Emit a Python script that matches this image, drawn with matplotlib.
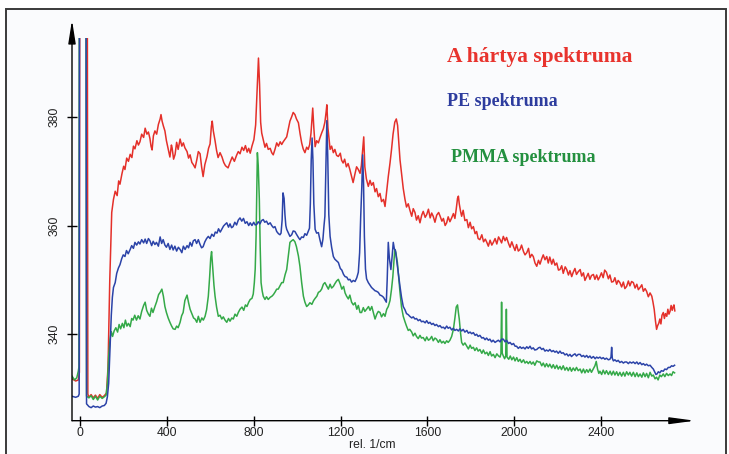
import matplotlib
matplotlib.use("Agg")
import matplotlib.pyplot as plt
from matplotlib.patches import Rectangle

# ---------------- data ----------------
SAT = 420.0      # Rayleigh line: off scale, the trace is cut at the plot ceiling
CEIL = 394.5     # level at which the instrument plot cuts the traces

red_x = [-37, -20, -8, -3, -1, 33, 36, 41, 51, 61, 71, 81, 91, 102, 112, 122, 129, 137, 146, 154, 162, 171, 178, 184, 193, 201, 207, 215, 223, 231, 239, 246, 253, 262, 269, 276, 284, 293, 300, 308, 315, 322, 327, 332, 338, 345, 353, 361, 369, 373, 378, 384, 391, 398, 406, 414, 421, 424, 431, 438, 445, 452, 461, 469, 476, 483, 493, 500, 507, 515, 522, 530, 538, 545, 553, 560, 567, 575, 585, 592, 599, 605, 609, 614, 622, 629, 636, 645, 654, 662, 670, 682, 691, 701, 711, 721, 729, 737, 746, 754, 762, 770, 777, 784, 792, 801, 809, 816, 822, 827, 832, 837, 844, 852, 859, 867, 876, 883, 890, 898, 906, 914, 922, 929, 936, 945, 952, 960, 967, 975, 982, 990, 997, 1006, 1014, 1021, 1028, 1036, 1044, 1051, 1058, 1064, 1072, 1077, 1083, 1090, 1098, 1105, 1113, 1121, 1128, 1134, 1137, 1142, 1148, 1152, 1159, 1167, 1174, 1182, 1190, 1199, 1205, 1212, 1219, 1227, 1235, 1243, 1250, 1258, 1266, 1274, 1282, 1290, 1296, 1302, 1307, 1312, 1319, 1328, 1336, 1343, 1351, 1359, 1366, 1374, 1382, 1389, 1398, 1405, 1412, 1420, 1428, 1435, 1442, 1450, 1457, 1463, 1469, 1474, 1481, 1489, 1497, 1504, 1512, 1519, 1528, 1535, 1543, 1550, 1558, 1566, 1574, 1581, 1590, 1597, 1605, 1613, 1620, 1627, 1635, 1643, 1652, 1659, 1667, 1674, 1682, 1689, 1696, 1704, 1712, 1720, 1727, 1733, 1739, 1743, 1747, 1753, 1758, 1765, 1773, 1782, 1789, 1797, 1804, 1812, 1820, 1827, 1834, 1842, 1851, 1859, 1867, 1874, 1881, 1889, 1897, 1904, 1912, 1920, 1928, 1935, 1942, 1950, 1958, 1965, 1974, 1981, 1989, 1997, 2004, 2011, 2019, 2027, 2034, 2043, 2050, 2058, 2066, 2073, 2081, 2088, 2096, 2104, 2112, 2119, 2127, 2134, 2142, 2150, 2157, 2164, 2173, 2180, 2188, 2196, 2204, 2211, 2219, 2226, 2235, 2242, 2250, 2257, 2265, 2272, 2280, 2287, 2295, 2304, 2311, 2319, 2326, 2334, 2341, 2349, 2356, 2365, 2372, 2380, 2387, 2395, 2402, 2410, 2417, 2425, 2434, 2441, 2449, 2457, 2464, 2472, 2479, 2487, 2495, 2503, 2510, 2518, 2526, 2533, 2541, 2549, 2557, 2565, 2572, 2580, 2588, 2595, 2603, 2610, 2618, 2626, 2634, 2639, 2645, 2651, 2656, 2661, 2666, 2671, 2676, 2681, 2687, 2692, 2697, 2703, 2708, 2713, 2718, 2723, 2728, 2732, 2736, 2740]
red_y = [331.8, 331.4, 331.6, 333.0, SAT, SAT, 329.0, 328.4, 328.9, 328.3, 328.8, 328.2, 328.9, 328.4, 328.7, 329.2, 334.0, 350.0, 362.4, 364.8, 366.3, 365.5, 368.2, 367.6, 369.5, 370.9, 370.3, 372.4, 371.8, 373.1, 372.5, 374.6, 374.1, 375.6, 374.8, 375.4, 376.8, 376.2, 377.9, 376.8, 377.2, 376.0, 374.6, 373.9, 376.5, 377.4, 376.8, 378.6, 379.6, 380.4, 379.2, 378.3, 377.4, 375.6, 374.1, 372.6, 374.8, 374.3, 372.2, 373.1, 375.3, 374.0, 375.9, 374.6, 375.2, 374.3, 373.6, 372.4, 373.0, 371.6, 371.2, 370.6, 372.1, 373.6, 373.2, 370.8, 369.0, 371.2, 372.7, 374.2, 375.0, 378.2, 379.2, 377.4, 375.6, 373.8, 372.5, 373.4, 372.6, 371.6, 371.0, 370.6, 371.6, 372.6, 371.8, 372.9, 373.6, 373.2, 374.4, 373.8, 374.7, 373.5, 374.2, 373.3, 374.6, 375.8, 378.5, 385.0, 390.8, 386.0, 379.0, 377.0, 375.8, 374.4, 375.1, 374.0, 374.2, 373.4, 373.0, 374.0, 375.2, 374.6, 375.4, 374.9, 375.4, 375.9, 376.3, 377.8, 379.2, 380.0, 380.8, 380.4, 379.6, 378.9, 376.8, 375.2, 374.1, 373.4, 374.4, 374.0, 374.9, 377.0, 381.6, 378.0, 374.5, 375.6, 375.2, 376.1, 377.0, 377.8, 379.0, 381.0, 382.2, 378.0, 375.5, 374.0, 374.6, 373.4, 374.0, 372.9, 372.7, 373.3, 372.0, 371.5, 372.2, 370.8, 371.4, 370.3, 369.2, 367.9, 369.4, 370.8, 370.3, 369.6, 371.0, 374.0, 376.3, 370.8, 368.6, 367.2, 368.3, 367.4, 367.9, 366.2, 366.8, 365.3, 365.9, 364.4, 364.8, 363.5, 366.0, 369.0, 371.5, 374.0, 376.8, 379.0, 379.6, 378.4, 375.0, 372.1, 369.6, 366.8, 364.8, 363.4, 364.0, 362.9, 361.7, 363.1, 362.4, 361.0, 361.8, 360.5, 361.9, 362.6, 361.5, 362.0, 363.0, 361.4, 362.3, 361.7, 360.6, 361.9, 362.4, 361.7, 360.8, 361.3, 360.0, 360.5, 361.6, 360.7, 361.4, 362.2, 361.3, 363.0, 365.0, 365.4, 364.0, 362.6, 361.7, 362.8, 360.9, 361.1, 359.6, 360.6, 359.4, 359.8, 358.5, 358.9, 357.6, 357.4, 358.3, 357.0, 357.5, 356.9, 356.2, 357.3, 356.4, 356.9, 357.6, 356.6, 357.9, 357.4, 356.8, 358.0, 357.2, 357.8, 356.7, 356.0, 357.0, 356.1, 355.4, 356.5, 355.3, 355.6, 356.4, 355.2, 354.6, 355.0, 355.8, 354.1, 354.7, 354.3, 353.1, 352.5, 353.6, 352.9, 353.9, 354.6, 353.7, 354.3, 353.1, 354.2, 352.9, 353.8, 352.7, 353.1, 351.8, 351.9, 352.6, 351.2, 352.4, 351.9, 350.9, 351.7, 350.6, 351.4, 352.1, 351.0, 351.5, 351.9, 350.7, 351.3, 349.9, 350.6, 351.2, 350.1, 350.8, 351.0, 350.1, 350.9, 350.0, 350.6, 351.3, 350.4, 351.8, 351.4, 350.2, 350.9, 349.6, 349.7, 350.4, 349.2, 349.9, 349.5, 348.7, 349.6, 348.4, 348.8, 349.8, 348.9, 349.7, 349.5, 348.5, 349.2, 348.2, 348.6, 349.1, 347.9, 348.4, 347.9, 346.9, 347.6, 347.0, 346.0, 344.6, 342.4, 340.9, 341.6, 342.0, 342.8, 341.9, 343.5, 344.0, 342.9, 343.8, 343.3, 344.6, 343.7, 344.2, 345.3, 344.4, 345.0, 345.4, 344.3]

blue_x = [-37, -20, -8, -4, -2, 27, 30, 41, 51, 61, 71, 81, 91, 102, 112, 120, 126, 132, 138, 144, 149, 154, 162, 169, 177, 184, 192, 199, 207, 214, 222, 231, 238, 246, 253, 261, 269, 276, 284, 293, 300, 307, 315, 322, 330, 337, 345, 352, 361, 369, 376, 383, 391, 398, 406, 414, 422, 429, 437, 445, 453, 461, 469, 476, 484, 493, 500, 507, 515, 522, 530, 537, 545, 553, 560, 567, 575, 583, 591, 599, 607, 616, 623, 631, 638, 646, 653, 661, 668, 676, 684, 691, 698, 705, 713, 721, 729, 737, 745, 753, 761, 769, 777, 784, 792, 800, 807, 814, 821, 829, 836, 844, 851, 859, 867, 876, 883, 891, 898, 906, 914, 921, 926, 931, 935, 940, 944, 948, 952, 960, 967, 975, 982, 990, 997, 1006, 1013, 1021, 1029, 1036, 1044, 1051, 1057, 1061, 1065, 1069, 1073, 1077, 1083, 1090, 1098, 1105, 1113, 1119, 1124, 1128, 1133, 1137, 1141, 1146, 1152, 1159, 1167, 1174, 1182, 1190, 1199, 1206, 1214, 1221, 1229, 1236, 1243, 1251, 1259, 1267, 1275, 1282, 1288, 1293, 1298, 1302, 1306, 1310, 1315, 1320, 1328, 1336, 1343, 1351, 1359, 1366, 1374, 1382, 1389, 1398, 1405, 1411, 1415, 1420, 1425, 1432, 1437, 1443, 1448, 1453, 1460, 1466, 1474, 1481, 1489, 1497, 1504, 1512, 1519, 1528, 1535, 1543, 1550, 1558, 1566, 1573, 1581, 1590, 1597, 1605, 1612, 1620, 1627, 1635, 1642, 1651, 1658, 1666, 1674, 1681, 1689, 1696, 1704, 1712, 1720, 1727, 1735, 1743, 1750, 1758, 1765, 1773, 1782, 1789, 1797, 1804, 1812, 1820, 1827, 1834, 1842, 1851, 1858, 1866, 1873, 1881, 1888, 1896, 1903, 1912, 1919, 1927, 1935, 1942, 1950, 1958, 1965, 1974, 1981, 1989, 1997, 2004, 2011, 2019, 2027, 2034, 2042, 2050, 2058, 2065, 2073, 2080, 2088, 2095, 2104, 2112, 2119, 2127, 2134, 2142, 2149, 2157, 2164, 2173, 2180, 2188, 2195, 2203, 2211, 2218, 2226, 2234, 2242, 2249, 2257, 2264, 2272, 2280, 2287, 2295, 2304, 2311, 2319, 2326, 2334, 2341, 2349, 2356, 2365, 2373, 2380, 2387, 2395, 2403, 2410, 2418, 2425, 2434, 2441, 2446, 2449, 2452, 2457, 2464, 2472, 2479, 2487, 2495, 2503, 2510, 2518, 2526, 2533, 2541, 2549, 2557, 2565, 2572, 2580, 2588, 2595, 2603, 2610, 2618, 2626, 2634, 2641, 2648, 2653, 2658, 2664, 2671, 2678, 2687, 2694, 2702, 2710, 2718, 2725, 2732, 2739]
blue_y = [328.6, 328.4, 328.6, 329.0, SAT, SAT, 327.2, 326.7, 326.5, 326.8, 326.6, 326.7, 326.5, 326.8, 326.9, 327.3, 328.5, 331.0, 337.2, 343.5, 346.8, 348.6, 349.5, 351.2, 352.2, 352.8, 353.9, 354.6, 354.3, 355.4, 354.8, 355.6, 356.3, 355.8, 356.9, 356.4, 357.0, 356.6, 357.4, 356.8, 357.5, 356.7, 357.6, 357.2, 356.3, 357.1, 356.5, 356.9, 356.2, 357.9, 356.7, 357.4, 356.4, 356.0, 356.7, 355.6, 356.4, 355.5, 356.2, 355.3, 356.0, 355.6, 355.0, 356.2, 355.6, 356.3, 355.9, 356.9, 356.2, 357.2, 357.4, 356.7, 357.4, 356.5, 355.9, 356.1, 357.0, 357.6, 358.0, 357.6, 358.4, 358.0, 358.8, 358.6, 359.4, 358.8, 359.3, 359.9, 360.2, 360.5, 359.7, 360.3, 359.6, 359.8, 360.6, 360.1, 361.0, 361.4, 360.8, 361.3, 360.4, 360.7, 360.0, 360.5, 360.0, 360.6, 360.1, 360.2, 360.7, 360.3, 360.9, 361.1, 360.6, 360.8, 360.2, 360.5, 360.0, 359.6, 359.8, 358.9, 358.5, 358.3, 358.6, 361.0, 366.0, 365.0, 362.0, 360.0, 359.3, 358.6, 358.0, 358.3, 359.0, 358.9, 358.4, 357.8, 357.4, 357.9, 357.8, 358.5, 358.2, 358.9, 359.5, 364.0, 372.0, 376.1, 372.0, 364.0, 359.3, 358.6, 358.7, 357.4, 356.1, 357.5, 360.0, 361.7, 372.0, 379.3, 373.0, 362.0, 358.0, 356.0, 354.3, 353.8, 353.5, 353.2, 352.1, 351.8, 351.0, 350.6, 350.5, 350.0, 350.1, 349.6, 349.9, 349.7, 350.4, 351.4, 355.0, 361.7, 367.0, 373.0, 368.0, 358.0, 352.0, 350.2, 349.5, 349.0, 348.6, 348.3, 348.0, 347.9, 347.7, 347.2, 347.1, 346.8, 346.3, 345.9, 350.0, 356.9, 354.0, 351.9, 354.0, 356.9, 355.7, 355.4, 353.2, 351.4, 348.8, 346.8, 345.1, 344.5, 343.8, 343.6, 343.3, 343.0, 343.2, 342.8, 342.9, 342.5, 342.7, 342.3, 342.4, 342.1, 342.5, 342.0, 342.2, 341.8, 342.0, 341.6, 341.8, 341.4, 341.6, 341.2, 341.3, 341.0, 341.5, 341.1, 341.3, 340.8, 341.1, 340.7, 340.9, 340.6, 341.0, 340.6, 340.9, 340.4, 340.7, 340.2, 340.4, 340.1, 340.3, 339.8, 340.0, 339.6, 339.8, 339.3, 339.4, 339.0, 339.3, 338.9, 339.1, 338.6, 338.9, 338.5, 338.7, 338.9, 338.6, 339.1, 339.1, 338.6, 338.9, 338.3, 338.5, 338.1, 338.3, 337.8, 337.8, 337.4, 337.7, 337.4, 337.6, 337.3, 337.7, 337.4, 337.8, 337.3, 337.5, 337.1, 337.2, 337.5, 337.6, 337.2, 337.4, 336.9, 337.1, 336.9, 337.2, 336.8, 337.0, 336.7, 336.9, 336.5, 336.9, 336.5, 336.6, 336.2, 336.4, 336.0, 336.3, 335.9, 336.2, 336.4, 336.0, 336.3, 336.3, 335.9, 336.1, 335.8, 336.1, 335.7, 336.0, 335.6, 335.9, 335.5, 335.8, 335.6, 335.8, 335.5, 335.7, 335.4, 335.6, 335.3, 335.4, 335.8, 337.6, 335.6, 335.1, 335.3, 335.0, 335.2, 334.8, 335.0, 334.7, 334.9, 334.9, 334.6, 334.9, 334.7, 334.9, 334.6, 334.9, 334.5, 334.8, 334.4, 334.6, 334.3, 334.5, 334.2, 334.3, 333.9, 333.6, 333.0, 332.6, 332.7, 333.1, 332.9, 333.3, 333.2, 333.6, 333.5, 333.9, 333.9, 334.2, 334.1, 334.3]

green_x = [-37, -25, -15, -8, -5, -3, 27, 30, 41, 51, 61, 71, 81, 91, 102, 112, 120, 126, 132, 138, 144, 150, 157, 165, 173, 180, 187, 195, 202, 209, 216, 223, 231, 238, 244, 252, 260, 268, 276, 284, 293, 300, 307, 315, 322, 329, 336, 345, 353, 362, 369, 377, 384, 391, 398, 406, 414, 422, 429, 438, 445, 452, 461, 468, 475, 483, 493, 500, 507, 515, 523, 530, 538, 545, 553, 561, 568, 576, 583, 591, 597, 602, 606, 611, 617, 622, 629, 637, 645, 653, 660, 668, 676, 684, 691, 699, 706, 714, 722, 729, 737, 746, 754, 762, 769, 777, 784, 792, 798, 803, 807, 811, 814, 817, 821, 826, 830, 834, 839, 844, 852, 859, 867, 876, 884, 891, 899, 906, 913, 921, 929, 936, 945, 952, 960, 967, 975, 982, 990, 997, 1006, 1013, 1021, 1029, 1036, 1044, 1052, 1059, 1068, 1076, 1083, 1091, 1098, 1106, 1113, 1121, 1128, 1137, 1144, 1152, 1159, 1167, 1174, 1182, 1190, 1199, 1206, 1214, 1221, 1228, 1236, 1243, 1251, 1259, 1267, 1275, 1282, 1290, 1297, 1305, 1312, 1320, 1329, 1336, 1344, 1351, 1359, 1367, 1374, 1382, 1389, 1398, 1405, 1413, 1420, 1428, 1435, 1441, 1446, 1450, 1455, 1462, 1468, 1474, 1481, 1489, 1497, 1504, 1512, 1519, 1528, 1535, 1543, 1550, 1558, 1566, 1573, 1581, 1590, 1597, 1605, 1612, 1620, 1627, 1635, 1642, 1651, 1658, 1666, 1674, 1681, 1689, 1696, 1704, 1712, 1720, 1727, 1733, 1739, 1743, 1747, 1753, 1758, 1765, 1773, 1782, 1789, 1797, 1804, 1812, 1819, 1827, 1834, 1842, 1851, 1858, 1866, 1874, 1881, 1889, 1896, 1904, 1912, 1920, 1928, 1935, 1939, 1942, 1945, 1950, 1956, 1961, 1964, 1967, 1975, 1982, 1989, 1997, 2004, 2012, 2019, 2027, 2034, 2043, 2050, 2058, 2065, 2073, 2080, 2088, 2095, 2104, 2112, 2119, 2127, 2134, 2142, 2149, 2157, 2164, 2173, 2180, 2188, 2196, 2203, 2211, 2218, 2226, 2234, 2242, 2249, 2257, 2264, 2272, 2280, 2287, 2295, 2304, 2311, 2319, 2326, 2334, 2341, 2349, 2356, 2365, 2372, 2378, 2384, 2390, 2395, 2403, 2410, 2418, 2425, 2434, 2442, 2449, 2457, 2464, 2472, 2479, 2487, 2495, 2503, 2510, 2518, 2526, 2533, 2541, 2549, 2557, 2565, 2572, 2580, 2588, 2595, 2603, 2610, 2618, 2626, 2634, 2641, 2649, 2656, 2663, 2671, 2678, 2687, 2694, 2702, 2710, 2718, 2725, 2732, 2739]
green_y = [332.3, 331.6, 332.0, 333.2, 334.0, SAT, SAT, 328.6, 328.3, 328.7, 328.0, 328.6, 327.9, 328.6, 328.2, 328.5, 328.8, 331.0, 336.0, 339.0, 340.5, 339.6, 340.6, 341.2, 340.4, 341.8, 341.0, 342.0, 341.2, 342.6, 341.5, 342.0, 341.4, 342.9, 342.6, 343.5, 342.6, 343.4, 342.8, 344.2, 345.3, 345.9, 344.4, 343.7, 343.3, 344.8, 344.0, 345.1, 346.0, 347.3, 347.7, 348.3, 347.0, 345.1, 344.0, 343.0, 342.2, 341.5, 341.0, 340.9, 341.5, 341.2, 342.2, 343.4, 344.0, 346.2, 347.2, 345.8, 344.6, 343.8, 343.0, 342.8, 342.2, 343.3, 342.2, 343.0, 342.6, 343.3, 344.5, 347.0, 350.5, 354.0, 355.2, 352.5, 349.0, 347.0, 345.0, 343.3, 343.5, 342.8, 343.2, 342.6, 342.2, 342.9, 342.4, 343.0, 342.8, 343.7, 343.3, 344.0, 344.6, 345.0, 344.4, 345.4, 345.1, 345.9, 346.4, 346.6, 347.4, 349.5, 352.0, 358.0, 366.0, 373.4, 371.0, 364.8, 356.0, 349.5, 348.0, 347.0, 346.4, 346.9, 346.4, 346.8, 347.0, 347.3, 347.8, 348.3, 348.3, 348.9, 349.5, 349.5, 351.0, 351.9, 354.5, 356.9, 357.2, 357.4, 357.0, 356.1, 354.4, 352.5, 349.5, 347.0, 345.9, 345.1, 345.4, 345.8, 345.5, 346.2, 346.6, 347.0, 347.7, 347.9, 348.3, 349.2, 349.5, 348.8, 348.3, 349.2, 348.5, 348.8, 349.3, 349.8, 350.1, 349.2, 348.3, 348.8, 347.6, 347.0, 346.5, 347.2, 345.9, 345.4, 345.8, 344.6, 345.3, 344.0, 344.0, 344.9, 344.2, 344.6, 345.1, 344.4, 345.1, 344.0, 342.8, 343.7, 344.2, 344.0, 343.2, 343.8, 343.3, 344.6, 345.1, 346.2, 348.3, 350.6, 353.5, 355.6, 355.0, 353.2, 350.5, 347.7, 345.0, 343.3, 342.3, 341.5, 340.7, 340.9, 340.4, 339.7, 340.2, 339.6, 339.2, 339.8, 339.3, 339.4, 338.8, 339.5, 338.9, 339.1, 339.6, 338.8, 339.3, 339.1, 338.5, 339.0, 338.4, 338.7, 338.3, 338.8, 338.5, 338.9, 339.6, 340.9, 343.0, 345.0, 345.4, 344.0, 342.8, 340.2, 338.5, 338.0, 338.4, 337.8, 337.3, 338.0, 337.4, 337.6, 337.0, 337.5, 336.9, 337.2, 336.5, 337.1, 336.4, 336.7, 336.1, 336.8, 336.0, 336.3, 335.7, 336.4, 336.0, 335.8, 336.4, 345.9, 336.5, 336.0, 335.5, 336.0, 344.6, 335.8, 335.4, 336.0, 335.3, 335.8, 335.1, 335.7, 335.0, 335.4, 334.8, 335.3, 334.7, 335.0, 334.6, 335.0, 334.5, 334.9, 334.3, 335.1, 334.9, 334.9, 334.2, 334.7, 334.0, 334.6, 334.0, 334.5, 333.8, 334.4, 333.7, 334.3, 333.6, 334.1, 333.5, 334.2, 333.4, 333.9, 333.3, 333.9, 333.2, 333.8, 333.3, 333.9, 333.3, 333.6, 332.9, 333.6, 332.9, 333.5, 333.0, 333.6, 333.0, 333.7, 334.2, 335.0, 333.6, 332.8, 333.2, 332.6, 333.4, 332.7, 333.3, 332.6, 333.2, 332.5, 333.2, 332.5, 333.1, 332.4, 333.0, 332.3, 333.0, 332.3, 333.1, 332.5, 333.0, 332.3, 333.0, 332.2, 332.9, 332.2, 332.7, 332.1, 332.9, 332.2, 332.8, 332.0, 333.0, 332.3, 332.5, 331.8, 332.1, 331.6, 332.5, 332.2, 332.7, 332.2, 332.8, 332.4, 332.7, 332.4, 333.1, 332.9]

x_ticks = [0, 400, 800, 1200, 1600, 2000, 2400]
y_ticks = [340, 360, 380]
x_label = "rel. 1/cm"
labels = ["A hártya spektruma", "PE spektruma", "PMMA spektruma"]

# ---------------- figure ----------------
W, H = 729, 454
fig = plt.figure(figsize=(W / 100, H / 100), dpi=100, facecolor="white")

# framed panel background
fig.add_artist(Rectangle((5.5 / W, -0.05), (726 - 5.5) / W, (H - 9.5) / H + 0.05,
                         transform=fig.transFigure, facecolor="#fafbfd",
                         edgecolor="#3a3a3a", lw=1.4, zorder=-5))

ax = fig.add_axes([72 / W, 1 - 420.7 / H, (695 - 72) / W, (420.7 - 20) / H])
ax.set_facecolor("none")
xmin, xmax, ymin, ymax = -37, 2833, 324.1, 397.8
ax.set_xlim(xmin, xmax)
ax.set_ylim(ymin, ymax)

clip = Rectangle((xmin, ymin - 5), xmax - xmin, CEIL - ymin + 5,
                 transform=ax.transData, facecolor="none", edgecolor="none")
ax.add_patch(clip)

lw = 1.1
for xs, ys, col, z in [(green_x, green_y, "#34a948", 3),
                       (blue_x, blue_y, "#2b43a8", 4),
                       (red_x, red_y, "#e4302a", 2)]:
    (ln,) = ax.plot(xs, ys, color=col, lw=lw, zorder=z)
    ln.set_clip_path(clip)

for s in ax.spines.values():
    s.set_visible(False)

# axes with arrowheads
ax.annotate("", xy=(1, 0), xytext=(0, 0), xycoords="axes fraction",
            arrowprops=dict(arrowstyle="-|>,head_length=1.5,head_width=0.2",
                            color="black", lw=1.0, shrinkA=0, shrinkB=0), zorder=6)
ax.annotate("", xy=(0, 1), xytext=(0, 0), xycoords="axes fraction",
            arrowprops=dict(arrowstyle="-|>,head_length=1.4,head_width=0.22",
                            color="black", lw=1.0, shrinkA=0, shrinkB=0), zorder=6)

tick_font = dict(family=["Liberation Sans", "DejaVu Sans"], size=8.7)
ax.set_xticks(x_ticks)
ax.set_xticklabels([str(v) for v in x_ticks], **tick_font, color="#222222")
ax.set_yticks(y_ticks)
ax.set_yticklabels([str(v) for v in y_ticks], **tick_font, color="#222222",
                   rotation=90, va="center")
ax.tick_params(axis="both", direction="inout", length=6.5, width=1.0, color="black")
ax.tick_params(axis="x", pad=1.5)
ax.tick_params(axis="y", pad=5)

fig.text(372 / W, 1 - 445 / H, x_label, ha="center", va="center",
         family=["Liberation Sans", "DejaVu Sans"], size=8.7, color="#222222")

serif = ["Liberation Serif", "DejaVu Serif"]
fig.text(447 / W, 1 - 57 / H, labels[0], ha="left", va="center", family=serif,
         weight="bold", size=15.5, color="#e8332d")
fig.text(447 / W, 1 - 101 / H, labels[1], ha="left", va="center", family=serif,
         weight="bold", size=13.0, color="#2d3c9e")
fig.text(451 / W, 1 - 157 / H, labels[2], ha="left", va="center", family=serif,
         weight="bold", size=13.0, color="#23903f")

fig.savefig("out.png", dpi=100, facecolor="white")
